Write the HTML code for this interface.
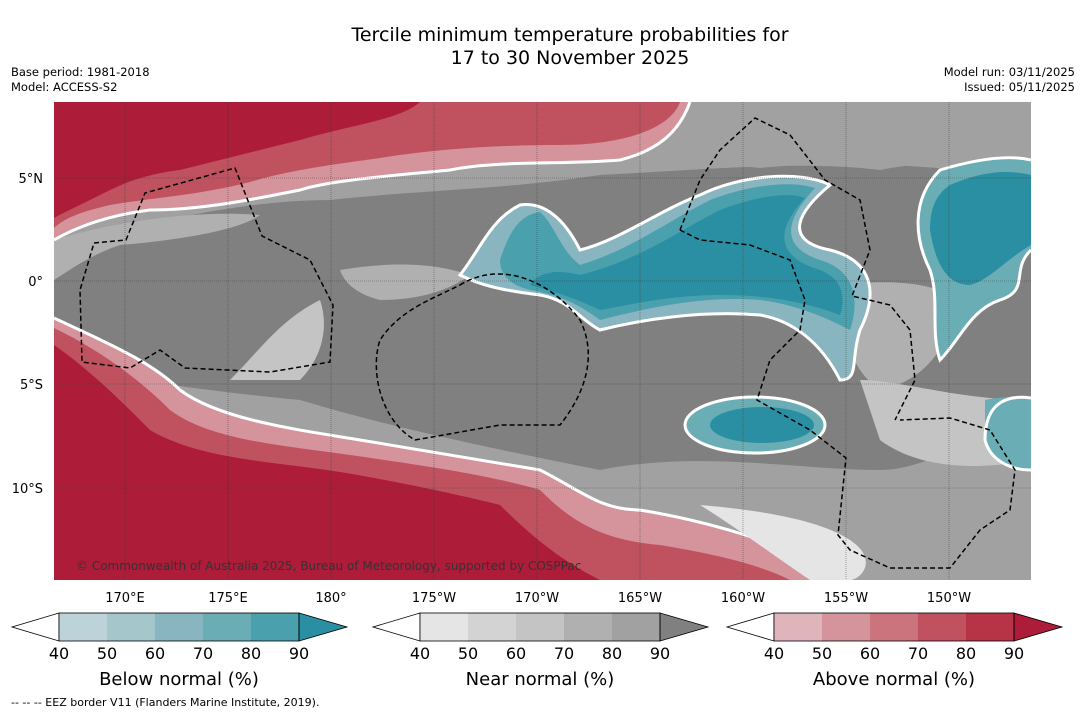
<!DOCTYPE html>
<html><head><meta charset="utf-8">
<style>
body{margin:0;background:#fff;font-family:"Liberation Sans","DejaVu Sans",sans-serif;}
svg text{font-family:"DejaVu Sans","Liberation Sans",sans-serif;}
</style></head>
<body>
<svg id="chart" width="1085" height="713" viewBox="0 0 1085 713" xmlns="http://www.w3.org/2000/svg">
<rect width="1085" height="713" fill="#fff"/>
<text x="570" y="41" font-size="19" text-anchor="middle">Tercile minimum temperature probabilities for</text>
<text x="570" y="64" font-size="19" text-anchor="middle">17 to 30 November 2025</text>
<text x="11" y="76" font-size="11.5">Base period: 1981-2018</text>
<text x="11" y="91" font-size="11.5">Model: ACCESS-S2</text>
<text x="1075" y="76" font-size="11.5" text-anchor="end">Model run: 03/11/2025</text>
<text x="1075" y="91" font-size="11.5" text-anchor="end">Issued: 05/11/2025</text>

<defs><clipPath id="mapclip"><rect x="54" y="102" width="977" height="478"/></clipPath></defs>
<g id="map" clip-path="url(#mapclip)">
<rect x="54" y="102" width="977" height="478" fill="#a1a1a1"/>
<path fill="#808080" d="M54,250 C150,220 250,200 330,200 C420,190 500,190 600,175 C700,170 800,160 880,170 C930,160 980,160 1031,170 L1031,420 C980,430 930,470 880,470 C800,470 700,450 600,470 C500,450 400,430 300,400 C200,390 120,380 54,360 Z"/>
<path fill="#b0b0b0" d="M54,240 C120,220 200,210 260,215 C240,230 180,240 120,245 C90,255 70,270 54,280Z"/>
<path fill="#c4c4c4" d="M230,380 C260,350 280,320 320,300 C330,330 320,360 300,380Z"/>
<path fill="#b0b0b0" d="M840,285 C880,280 930,280 960,300 C950,340 930,380 880,390 C850,370 840,330 840,285Z"/>
<path fill="#c4c4c4" d="M860,380 C900,380 960,400 1031,400 L1031,460 C980,470 920,470 880,440 Z"/>
<path fill="#a1a1a1" d="M690,130 C730,110 790,110 860,130 C900,140 950,130 1000,140 L1000,175 C930,165 840,160 760,168 C720,165 700,150 690,130Z"/>
<path fill="#b0b0b0" d="M340,270 C400,260 440,265 470,275 C450,290 420,300 380,300 C360,295 345,285 340,270Z"/>
<path fill="#d5939b" d="M54,102 L690,102 C680,130 660,150 620,160 C560,165 500,160 450,170 C400,175 330,180 300,190 C250,200 200,210 150,210 C110,215 80,225 54,240Z"/>
<path fill="#c0525f" d="M54,102 L680,102 C670,130 620,145 560,145 C490,145 430,150 380,158 C330,165 290,170 250,182 C200,195 150,198 110,205 C80,212 65,218 54,228Z"/>
<path fill="#ad1c38" d="M54,102 L420,102 C400,120 350,125 300,140 C260,150 220,160 180,170 C140,175 120,185 100,195 C80,205 65,212 54,218Z"/>
<path fill="none" stroke="#fff" stroke-width="3" d="M54,240 C80,225 110,215 150,210 C200,210 250,200 300,190 C330,180 400,175 450,170 C500,160 560,165 620,160 C660,150 680,130 690,102"/>
<path fill="#d5939b" d="M54,318 C100,340 150,360 180,390 C220,420 300,430 360,440 C420,450 480,460 540,470 C580,490 600,510 640,510 C700,520 780,540 850,580 L54,580Z"/>
<path fill="#c0525f" d="M54,328 C100,350 140,380 170,410 C210,440 280,445 350,455 C420,465 490,475 540,490 C570,520 600,540 660,545 C720,555 760,565 790,580 L54,580Z"/>
<path fill="#ad1c38" d="M54,345 C90,370 120,400 150,430 C200,460 280,462 340,472 C400,482 460,495 500,505 C530,535 560,560 600,580 L54,580Z"/>
<path fill="none" stroke="#fff" stroke-width="3" d="M54,318 C100,340 150,360 180,390 C220,420 300,430 360,440 C420,450 480,460 540,470 C580,490 600,510 640,510 C700,520 780,540 850,580"/>
<path fill="#e5e5e5" d="M700,505 C760,510 820,520 850,540 C880,560 860,580 850,580 L810,580 C780,560 740,530 700,505Z"/>
<path fill="#88b5c0" d="M460,275 C480,250 490,220 520,205 C550,200 570,230 580,250 C620,240 660,210 700,195 C740,175 800,170 830,185 C800,210 780,240 830,250 C870,260 880,290 860,330 C850,360 860,380 840,380 C820,340 790,320 760,315 C700,310 640,320 600,330 C580,320 570,300 540,295 C500,290 480,285 460,275Z"/>
<path fill="#4aa0ad" d="M500,260 C510,230 520,215 540,212 C555,225 560,250 580,265 C630,250 670,220 710,200 C750,185 790,180 815,188 C790,215 775,245 820,260 C855,270 860,300 850,330 C830,320 800,305 760,300 C700,295 640,310 600,320 C580,305 560,295 530,290 C510,285 500,275 500,260Z"/>
<path fill="#2b8fa3" d="M530,285 C540,270 560,270 580,275 C640,260 680,230 720,210 C760,195 790,192 805,198 C780,225 770,255 820,270 C845,280 845,300 840,315 C800,300 760,295 720,295 C670,295 630,305 600,310 C580,300 555,292 530,285Z"/>
<path fill="none" stroke="#fff" stroke-width="3" d="M460,275 C480,250 490,220 520,205 C550,200 570,230 580,250 C620,240 660,210 700,195 C740,175 800,170 830,185 C800,210 780,240 830,250 C870,260 880,290 860,330 C850,360 860,380 840,380 C820,340 790,320 760,315 C700,310 640,320 600,330 C580,320 570,300 540,295 C500,290 480,285 460,275Z"/>
<path fill="#6aadb5" d="M940,170 C980,158 1010,155 1031,160 L1031,250 C1010,270 1031,290 1000,300 C970,310 960,340 940,360 C930,330 940,300 930,270 C915,240 910,200 940,170Z"/>
<path fill="#2b8fa3" d="M950,185 C985,170 1010,170 1031,175 L1031,245 C1005,260 990,280 970,285 C945,285 935,260 930,230 C930,210 935,195 950,185Z"/>
<path fill="none" stroke="#fff" stroke-width="3" d="M1031,160 C1010,155 980,158 940,170 C910,200 915,240 930,270 C940,300 930,330 940,360 C960,340 970,310 1000,300 C1031,290 1010,270 1031,250"/>
<path fill="#6aadb5" d="M985,400 C1010,395 1031,398 1031,400 L1031,470 C1010,470 990,460 985,440 Z"/>
<path fill="none" stroke="#fff" stroke-width="3" d="M1031,398 C1010,395 985,400 985,440 C990,460 1010,470 1031,470"/>
<ellipse cx="755" cy="425" rx="70" ry="28" fill="#6aadb5" stroke="#fff" stroke-width="3"/>
<ellipse cx="762" cy="425" rx="52" ry="18" fill="#2b8fa3"/>
<g stroke="#333" stroke-width="0.6" stroke-opacity="0.7" stroke-dasharray="1,1">
<line x1="125" y1="102" x2="125" y2="580"/><line x1="228" y1="102" x2="228" y2="580"/><line x1="331" y1="102" x2="331" y2="580"/><line x1="434" y1="102" x2="434" y2="580"/><line x1="537" y1="102" x2="537" y2="580"/><line x1="640" y1="102" x2="640" y2="580"/><line x1="743" y1="102" x2="743" y2="580"/><line x1="846" y1="102" x2="846" y2="580"/><line x1="949" y1="102" x2="949" y2="580"/>
<line x1="54" y1="178" x2="1031" y2="178"/><line x1="54" y1="281" x2="1031" y2="281"/><line x1="54" y1="384" x2="1031" y2="384"/><line x1="54" y1="488" x2="1031" y2="488"/>
</g>
<g fill="none" stroke="#000" stroke-width="1.5" stroke-dasharray="5,3">
<path d="M94,243 L126,240 L145,193 L235,168 L262,236 L310,260 L333,305 L330,362 L270,372 L185,368 L160,350 L130,368 L82,362 L80,290 Z"/>
<path d="M460,285 C500,260 550,280 580,320 C600,360 580,400 560,425 L500,425 L415,440 C380,420 370,370 380,340 C400,310 430,300 460,285Z"/>
<path d="M680,230 L700,240 L750,245 L790,260 L805,300 L800,330 L770,360 L757,400 L810,430 L846,458 L838,535 L850,550 L890,568 L950,568 L980,530 L1010,510 L1015,470 L990,430 L950,418 L900,420"/>
<path d="M680,230 L700,180 L720,150 L755,118 L790,135 L825,180 L860,200 L870,250 L852,296 L890,305 L910,330 L915,380 L895,420"/>
</g>
<text x="76" y="570" font-size="12" fill="#333">© Commonwealth of Australia 2025, Bureau of Meteorology, supported by COSPPac</text>
</g>
<g font-size="13" text-anchor="end">
<text x="43" y="183">5°N</text><text x="43" y="286">0°</text><text x="43" y="389">5°S</text><text x="43" y="493">10°S</text>
</g>
<g font-size="13" text-anchor="middle">
<text x="125" y="602">170°E</text><text x="228" y="602">175°E</text><text x="331" y="602">180°</text><text x="434" y="602">175°W</text><text x="537" y="602">170°W</text><text x="640" y="602">165°W</text><text x="743" y="602">160°W</text><text x="846" y="602">155°W</text><text x="949" y="602">150°W</text>
</g>
<g id="bars"></g>
<text x="11" y="706" font-size="11">--  --  -- EEZ border V11 (Flanders Marine Institute, 2019).</text>
</svg>
<script>
const levels = [40, 50, 60, 70, 80, 90];
const titles = ["Below normal (%)", "Near normal (%)", "Above normal (%)"];
const belowColors = ["#bcd3da","#a5c6cb","#88b5c0","#6aadb5","#4aa0ad","#2b8fa3"];
const nearColors = ["#e5e5e5","#d3d3d3","#c4c4c4","#b0b0b0","#a1a1a1","#808080"];
const aboveColors = ["#e0b4bb","#d5939b","#cb747d","#c0525f","#b73446","#ad1c38"];
const palettes = [belowColors, nearColors, aboveColors];
const barX = [12, 373, 727];
const NS = "http://www.w3.org/2000/svg";
const g = document.getElementById("bars");
function mk(t, a){const e=document.createElementNS(NS,t);for(const k in a)e.setAttribute(k,a[k]);return e;}
palettes.forEach((pal, i) => {
  const x0 = barX[i], y0 = 613, h = 28, w = 48, left = x0 + 47;
  const grp = mk("g", {});
  
  
  grp.appendChild(mk("polygon", {points:`${x0},${y0+h/2} ${left},${y0} ${left},${y0+h}`, fill:"#fff", stroke:"#000", "stroke-width":0.8}));
  for (let k = 0; k < levels.length - 1; k++) {
    const r = mk("rect", {x:left + k*w, y:y0, width:w, height:h, fill:pal[k]});
    
    
    grp.appendChild(r);
  }
  const end = left + (levels.length-1)*w;
  grp.appendChild(mk("polygon", {points:`${end},${y0} ${end+48},${y0+h/2} ${end},${y0+h}`, fill:pal[5], stroke:"#000", "stroke-width":0.8}));
  grp.appendChild(mk("rect", {x:left, y:y0, width:end-left, height:h, fill:"none", stroke:"#000", "stroke-width":0.8}));
  levels.forEach((lv, k) => {
    const t = mk("text", {x:left + k*w, y:659, "font-size":16, "text-anchor":"middle"});
    t.textContent = lv;
    
    
    grp.appendChild(t);
  });
  const tt = mk("text", {x:left + 2.5*w, y:685, "font-size":18, "text-anchor":"middle"});
  tt.textContent = titles[i];
  
  
  grp.appendChild(tt);
  g.appendChild(grp);
});
</script>
</body></html>
